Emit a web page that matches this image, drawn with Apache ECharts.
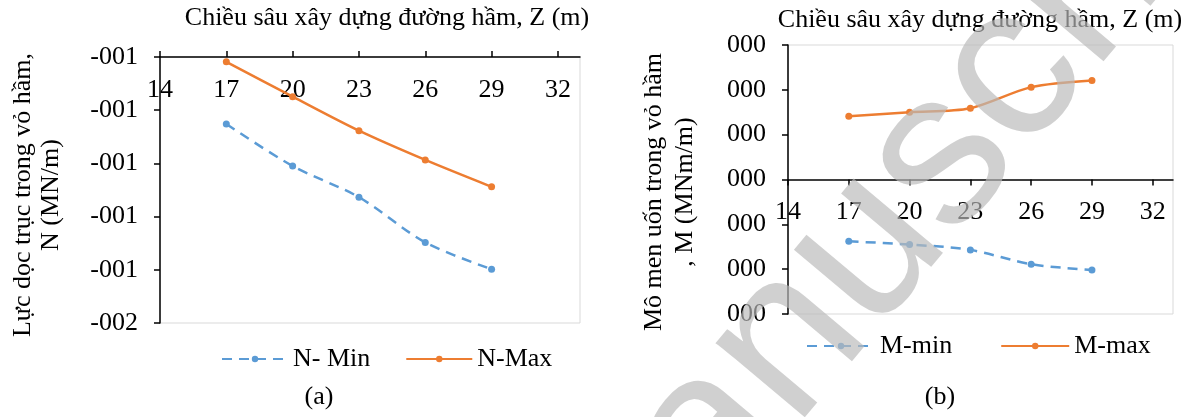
<!DOCTYPE html>
<html>
<head>
<meta charset="utf-8">
<script src="https://cdn.jsdelivr.net/npm/echarts@6/dist/echarts.min.js"></script>
<style>
html,body{margin:0;padding:0;background:#fff;}
#c{width:1194px;height:417px;}
</style>
</head>
<body>
<div id="c"></div>
<script>
// ---- data ----
var depthZ = [17, 20, 23, 26, 29];
var xTicks = [14, 17, 20, 23, 26, 29, 32];
var nMin = [-0.852, -1.010, -1.127, -1.297, -1.398];
var nMax = [-0.618, -0.749, -0.877, -0.987, -1.088];
var mMin = [-0.0138, -0.0145, -0.0157, -0.0189, -0.0202];
var mMax = [0.0141, 0.0150, 0.0159, 0.0206, 0.0221];
var yTickLabelsN = ['-002', '-001', '-001', '-001', '-001', '-001'];
var yTickLabelsM = ['000', '000', '000', '000', '000', '000', '000'];
var titleX = 'Chiều sâu xây dựng đường hầm, Z (m)';
var titleYN = 'Lực dọc trục trong vỏ hầm,\nN (MN/m)';
var titleYM = 'Mô men uốn trong vỏ hầm\n, M (MNm/m)';
var seriesNames = ['N- Min', 'N-Max', 'M-min', 'M-max'];
var panelLabels = ['(a)', '(b)'];
var watermark = 'Manuscript';

function pairs(xs, ys) { return xs.map(function (x, i) { return [x, ys[i]]; }); }

var FONT = 'Liberation Serif';
var FS = 26;
var BLUE = '#5B9BD5', ORANGE = '#ED7D31';

function xAxisCfg(gi, pos, inside, offset) {
  return {
    type: 'value', gridIndex: gi, min: 14, max: 33, position: pos, offset: offset,
    axisLine: { show: true, onZero: false, lineStyle: { color: '#000', width: 1.5 } },
    axisTick: { show: true, customValues: xTicks, length: 6, inside: false, lineStyle: { color: '#000', width: 1.5 } },
    axisLabel: { customValues: xTicks, inside: inside, margin: 20, color: '#000', fontFamily: FONT, fontSize: FS },
    splitLine: { show: false }
  };
}
function yAxisCfg(gi, min, max, interval, labels) {
  return {
    type: 'value', gridIndex: gi, min: min, max: max, interval: interval,
    axisLine: { show: true, onZero: false, lineStyle: { color: '#000', width: 1.5 } },
    axisTick: { show: true, length: 6, lineStyle: { color: '#000', width: 1.5 } },
    axisLabel: { margin: 22, color: '#000', fontFamily: FONT, fontSize: FS,
      formatter: function (v, i) { return labels[i]; } },
    splitLine: { show: false }
  };
}
function lineSeries(name, gi, xs, ys, color, dashed) {
  return {
    name: name, type: 'line', xAxisIndex: gi, yAxisIndex: gi,
    data: pairs(xs, ys), smooth: 0.3,
    symbol: 'circle', symbolSize: 7,
    itemStyle: { color: color },
    lineStyle: { color: color, width: 2.5, type: dashed ? [10, 7] : 'solid' },
    z: 3
  };
}

var chart = echarts.init(document.getElementById('c'), null, { renderer: 'canvas' });
chart.setOption({
  backgroundColor: '#fff',
  animation: false,
  grid: [
    { left: 160, top: 57, width: 420, height: 266, show: true, borderColor: '#d9d9d9', borderWidth: 1 },
    { left: 788, top: 45, width: 385, height: 269, show: true, borderColor: '#d9d9d9', borderWidth: 1 }
  ],
  xAxis: [xAxisCfg(0, 'top', true, 0), xAxisCfg(1, 'bottom', false, -134.5)],
  yAxis: [yAxisCfg(0, -1.6, -0.6, 0.2, yTickLabelsN), yAxisCfg(1, -0.03, 0.03, 0.01, yTickLabelsM)],
  legend: [
    { data: [seriesNames[0], seriesNames[1]], left: 216, top: 341, itemWidth: 66, itemHeight: 8, itemGap: 35,
      textStyle: { fontFamily: FONT, fontSize: FS, color: '#000' } },
    { data: [seriesNames[2], seriesNames[3]], left: 801, top: 328, itemWidth: 68, itemHeight: 8, itemGap: 48,
      textStyle: { fontFamily: FONT, fontSize: FS, color: '#000' } }
  ],
  series: [
    lineSeries(seriesNames[0], 0, depthZ, nMin, BLUE, true),
    lineSeries(seriesNames[1], 0, depthZ, nMax, ORANGE, false),
    lineSeries(seriesNames[2], 1, depthZ, mMin, BLUE, true),
    lineSeries(seriesNames[3], 1, depthZ, mMax, ORANGE, false)
  ],
  graphic: [
    { type: 'text', x: 387, y: 18, style: { text: titleX, font: FS + 'px "' + FONT + '"', fill: '#000', align: 'center', verticalAlign: 'middle' } },
    { type: 'text', x: 980, y: 20, style: { text: titleX, font: FS + 'px "' + FONT + '"', fill: '#000', align: 'center', verticalAlign: 'middle' } },
    { type: 'text', x: 37, y: 195, rotation: Math.PI / 2,
      style: { text: titleYN, font: FS + 'px "' + FONT + '"', fill: '#000', align: 'center', verticalAlign: 'middle', lineHeight: 28 } },
    { type: 'text', x: 670, y: 192, rotation: Math.PI / 2,
      style: { text: titleYM, font: FS + 'px "' + FONT + '"', fill: '#000', align: 'center', verticalAlign: 'middle', lineHeight: 31 } },
    { type: 'text', x: 319, y: 397, style: { text: panelLabels[0], font: FS + 'px "' + FONT + '"', fill: '#000', align: 'center', verticalAlign: 'middle' } },
    { type: 'text', x: 940, y: 397, style: { text: panelLabels[1], font: FS + 'px "' + FONT + '"', fill: '#000', align: 'center', verticalAlign: 'middle' } },
    { type: 'text', x: 898, y: 212, rotation: 50 * Math.PI / 180, z: 100,
      style: { text: watermark, font: '220px "Liberation Sans"', fill: 'rgba(185,185,185,0.68)', align: 'center', verticalAlign: 'middle' } }
  ]
});
</script>
</body>
</html>
